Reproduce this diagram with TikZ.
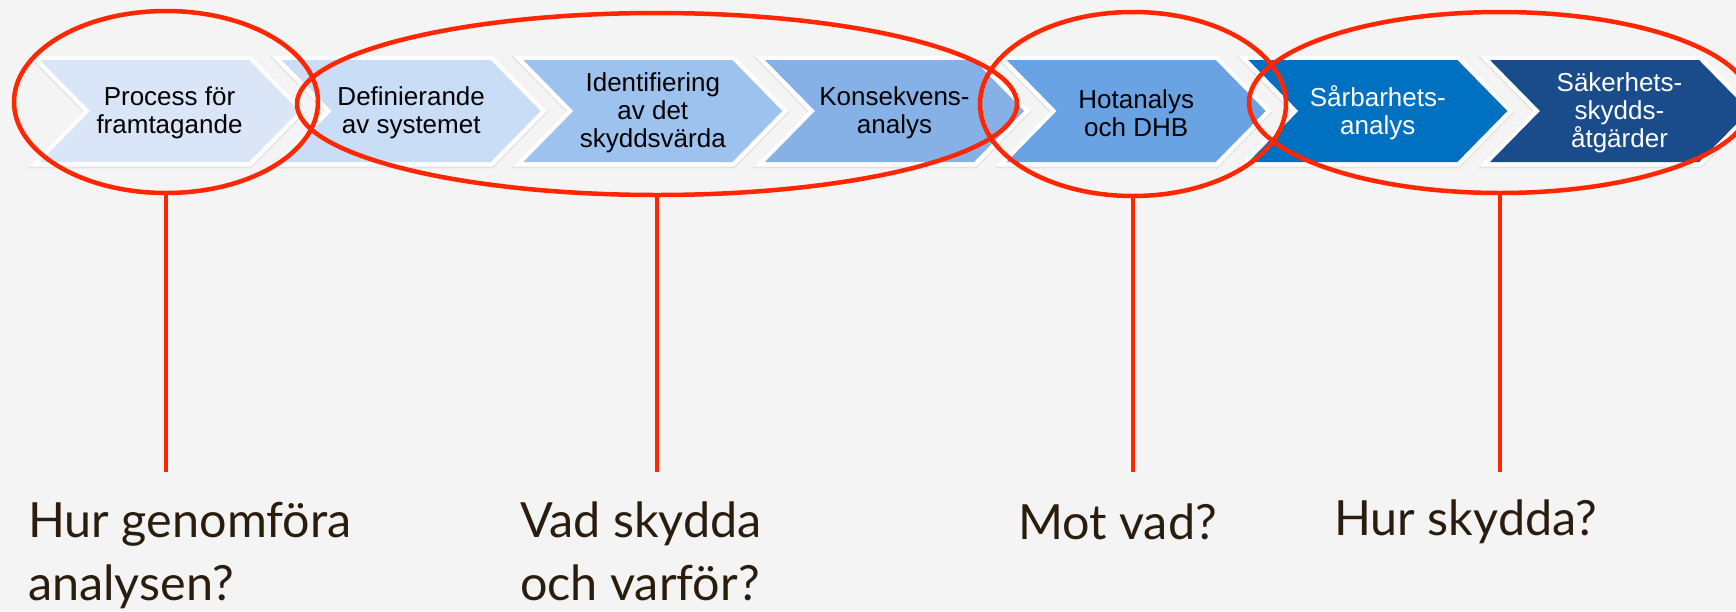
\documentclass[tikz,border=0pt]{standalone}
\usepackage{fontspec}
\setmainfont{Liberation Sans}
\newfontfamily\labelfont{Lato}
\usetikzlibrary{shapes.geometric}
\definecolor{bg}{HTML}{F4F4F4}
\definecolor{ca}{HTML}{DAE6F8}
\definecolor{cb}{HTML}{CADDF6}
\definecolor{cc}{HTML}{9EC2EE}
\definecolor{cd}{HTML}{85B1E7}
\definecolor{ce}{HTML}{6AA3E3}
\definecolor{cf}{HTML}{0070C0}
\definecolor{cg}{HTML}{1A4B8B}
\definecolor{redmark}{HTML}{FF2600}
\definecolor{qbrown}{HTML}{2B1D0E}
\tikzset{
  chevtext/.style={align=center, inner sep=0pt, font=\fontsize{26}{27.8}\selectfont},
  redell/.style={ellipse, draw=redmark, line width=4.5pt, inner sep=0pt},
  redline/.style={draw=redmark, line width=4.5pt},
  qlabel/.style={anchor=base west, align=left, inner sep=0pt, text=qbrown,
    font=\labelfont\fontsize{48.5}{63}\selectfont},
}
\begin{document}
\begin{tikzpicture}[x=1pt,y=-1pt]
\useasboundingbox (0,0) rectangle (1736,611);
\clip (0,0) rectangle (1736,611);
\fill[bg] (0,0) rectangle (1736,611);
% chevrons
\foreach \i/\c in {0/ca,1/cb,2/cc,3/cd,4/ce,5/cf,6/cg}{
  \pgfmathsetmacro\L{40+241.67*\i}
  \path[draw=black!11, line width=10.5pt, line join=miter]
    (\L,61) -- ++(209,0) -- ++(50,51) -- ++(-50,51) -- ++(-209,0) -- ++(50,-51) -- cycle;
  \path[draw=white, line width=9pt, line join=miter]
    (\L,60) -- ++(209,0) -- ++(50,51) -- ++(-50,51) -- ++(-209,0) -- ++(50,-51) -- cycle;
  \path[fill=\c]
    (\L,60) -- ++(209,0) -- ++(50,51) -- ++(-50,51) -- ++(-209,0) -- ++(50,-51) -- cycle;
}
% chevron texts
\node[chevtext] (t1) at (169.5,113) {Process för\\framtagande};
\node[chevtext] (t2) at (411.2,113) {Definierande\\av systemet};
\node[chevtext] (t3) at (652.8,113) {Identifiering\\av det\\skyddsvärda};
\node[chevtext] (t4) at (894.5,113) {Konsekvens-\\analys};
\node[chevtext] (t5) at (1136.2,113) {Hotanalys\\och DHB};
\node[chevtext, text=white] (t6) at (1377.8,113) {Sårbarhets-\\analys};
\node[chevtext, text=white] (t7) at (1619.5,113) {Säkerhets-\\skydds-\\åtgärder};
% red ellipses
\node[redell, minimum width=304pt, minimum height=182pt] (e1) at (166,102) {};
\node[redell, minimum width=720pt, minimum height=182pt] (e2) at (657,104) {};
\node[redell, minimum width=306pt, minimum height=184pt] (e3) at (1133,104) {};
\node[redell, minimum width=502pt, minimum height=181pt] (e4) at (1500,102.5) {};
% line ends
\coordinate (l1) at (166,472);
\coordinate (l2) at (657,472);
\coordinate (l3) at (1133,472);
\coordinate (l4) at (1500,472);
\draw[redline] (e1.south) -- (l1);
\draw[redline] (e2.south) -- (l2);
\draw[redline] (e3.south) -- (l3);
\draw[redline] (e4.south) -- (l4);
% questions (base = baseline of last line)
\node[qlabel] (q1) at (28,600) {Hur genomföra\\analysen?};
\node[qlabel] (q2) at (520,600) {Vad skydda\\och varför?};
\node[qlabel] (q3) at (1018,539) {Mot vad?};
\node[qlabel] (q4) at (1334,535) {Hur skydda?};
\end{tikzpicture}
\end{document}
